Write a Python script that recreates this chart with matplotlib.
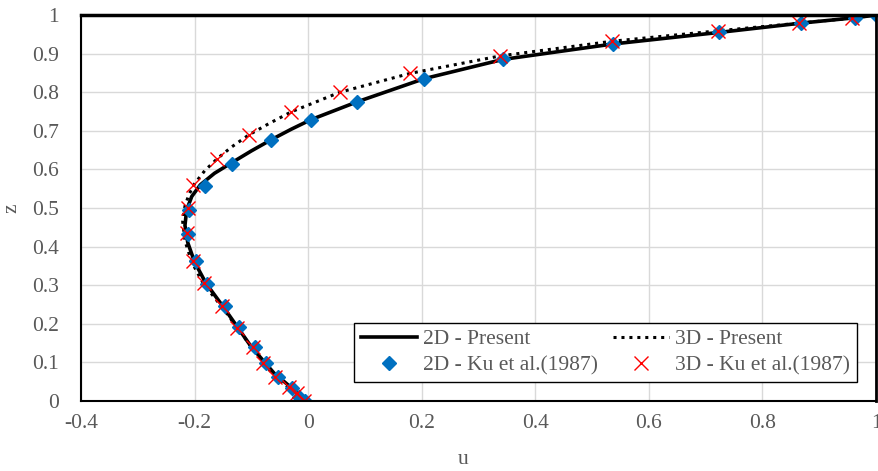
import matplotlib.pyplot as plt
from matplotlib.ticker import MultipleLocator, FuncFormatter

plt.rcParams['font.family'] = ['Liberation Serif', 'DejaVu Serif']

# 2D - Present (solid line)
u_2d_line = [0.0, -0.03, -0.06, -0.1, -0.15, -0.18, -0.2, -0.212, -0.217, -0.214, -0.205, -0.19,
             -0.165, -0.135, -0.1, -0.065, -0.03, 0.005, 0.086, 0.204, 0.343, 0.537, 0.724, 0.868, 0.963, 1.0]
z_2d_line = [0.0, 0.035, 0.072, 0.14, 0.245, 0.305, 0.36, 0.41, 0.455, 0.495, 0.53, 0.56,
             0.59, 0.617, 0.648, 0.677, 0.704, 0.729, 0.775, 0.835, 0.885, 0.925, 0.955, 0.979, 0.993, 1.0]

# 3D - Present (dotted line)
u_3d_line = [0.0, -0.035, -0.065, -0.1, -0.15, -0.185, -0.205, -0.217, -0.221, -0.217, -0.21, -0.2,
             -0.182, -0.16, -0.135, -0.105, -0.07, -0.03, 0.056, 0.18, 0.338, 0.535, 0.721, 0.865, 0.958, 1.0]
z_3d_line = [0.0, 0.035, 0.075, 0.14, 0.24, 0.305, 0.36, 0.415, 0.465, 0.505, 0.535, 0.563,
             0.597, 0.628, 0.658, 0.689, 0.718, 0.749, 0.8, 0.849, 0.894, 0.932, 0.959, 0.979, 0.992, 1.0]

# 2D - Ku et al.(1987)
u_2d_ku = [1.0, 0.963, 0.868, 0.724, 0.537, 0.343, 0.204, 0.086, 0.005, -0.065, -0.135, -0.182,
           -0.21, -0.212, -0.198, -0.178, -0.146, -0.121, -0.093, -0.074, -0.053, -0.028, -0.016, -0.005]
z_2d_ku = [1.0, 0.993, 0.979, 0.955, 0.925, 0.885, 0.835, 0.775, 0.729, 0.677, 0.615, 0.556,
           0.496, 0.432, 0.364, 0.302, 0.245, 0.191, 0.14, 0.098, 0.062, 0.034, 0.011, 0.0]

# 3D - Ku et al.(1987)
u_3d_ku = [0.958, 0.865, 0.721, 0.535, 0.338, 0.18, 0.056, -0.03, -0.105, -0.16, -0.202, -0.212,
           -0.214, -0.202, -0.183, -0.151, -0.126, -0.097, -0.079, -0.058, -0.033, -0.02, -0.007]
z_3d_ku = [0.992, 0.979, 0.959, 0.932, 0.894, 0.849, 0.8, 0.749, 0.689, 0.628, 0.56, 0.499,
           0.434, 0.364, 0.305, 0.245, 0.19, 0.14, 0.098, 0.062, 0.035, 0.02, 0.0]

fig = plt.figure(figsize=(8.79, 4.71), dpi=100)
ax = fig.add_axes([0.0922, 0.1486, 0.9044, 0.8195])

ax.plot(u_2d_line, z_2d_line, color='black', linewidth=2.6, label='2D - Present', zorder=3)
ax.plot(u_2d_ku, z_2d_ku, linestyle='none', marker='D', markersize=7.5, color='#0070C0',
        label='2D - Ku et al.(1987)', zorder=4)
ax.plot(u_3d_line, z_3d_line, color='black', linewidth=2.2, linestyle=(0, (1, 1.6)),
        label='3D - Present', zorder=3)
ax.plot(u_3d_ku, z_3d_ku, linestyle='none', marker='x', markersize=10, markeredgewidth=1,
        color='#FF0000', label='3D - Ku et al.(1987)', zorder=5)

ax.set_xlim(-0.4, 1.0)
ax.set_ylim(0, 1.0)
ax.xaxis.set_major_locator(MultipleLocator(0.2))
ax.yaxis.set_major_locator(MultipleLocator(0.1))
fmt = FuncFormatter(lambda v, p: f'{round(v, 2):g}')
ax.xaxis.set_major_formatter(fmt)
ax.yaxis.set_major_formatter(fmt)
ax.tick_params(length=0, labelsize=15.5, labelcolor='#595959')
ax.tick_params(axis='x', pad=9)
ax.tick_params(axis='y', pad=16)
ax.grid(True, color='#d9d9d9', linewidth=1)
ax.set_axisbelow(True)

for side, lw in [('top', 2.5), ('right', 2), ('left', 1.5), ('bottom', 1.5)]:
    ax.spines[side].set_linewidth(lw)
    ax.spines[side].set_color('black')
    ax.spines[side].set_zorder(6)

ax.set_xlabel('u', fontsize=15.5, color='#595959')
ax.set_ylabel('z', fontsize=15.5, color='#595959')
ax.xaxis.set_label_coords(0.481, -0.128)
ax.yaxis.set_label_coords(-0.075, 0.5)

leg = ax.legend(ncol=2, loc='lower right', bbox_to_anchor=(0.976, 0.049), fontsize=15.5,
                frameon=True, fancybox=False, framealpha=1, edgecolor='black',
                borderpad=0.3, handlelength=2.6, handletextpad=0.3, columnspacing=0.7,
                labelspacing=0.3, borderaxespad=0)
leg.get_frame().set_linewidth(1)
for t in leg.get_texts():
    t.set_color('#595959')

fig.savefig('out.png', dpi=100)
